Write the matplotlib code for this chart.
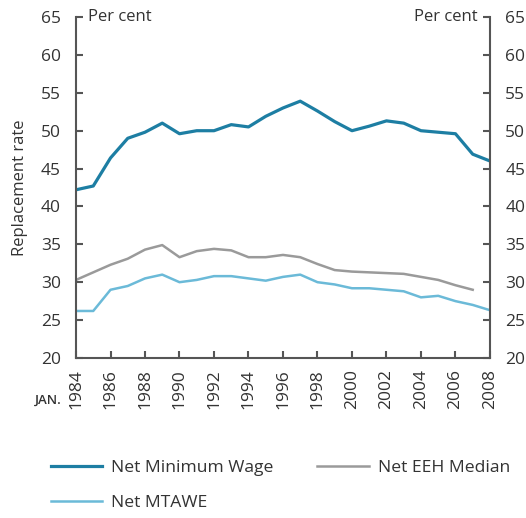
import matplotlib.pyplot as plt

plt.rcParams['font.family'] = ['Open Sans', 'DejaVu Sans']

years = list(range(1984, 2009))
min_wage = [42.2, 42.7, 46.4, 49.0, 49.8, 51.0, 49.6, 50.0, 50.0, 50.8, 50.5, 51.9, 53.0,
            53.9, 52.6, 51.2, 50.0, 50.6, 51.3, 51.0, 50.0, 49.8, 49.6, 46.9, 46.0]
eeh_years = list(range(1984, 2008))
eeh_median = [30.3, 31.3, 32.3, 33.1, 34.3, 34.9, 33.3, 34.1, 34.4, 34.2, 33.3, 33.3,
              33.6, 33.3, 32.4, 31.6, 31.4, 31.3, 31.2, 31.1, 30.7, 30.3, 29.6, 29.0]
mtawe = [26.2, 26.2, 29.0, 29.5, 30.5, 31.0, 30.0, 30.3, 30.8, 30.8, 30.5, 30.2, 30.7,
         31.0, 30.0, 29.7, 29.2, 29.2, 29.0, 28.8, 28.0, 28.2, 27.5, 27.0, 26.3]
xticks = list(range(1984, 2009, 2))
yticks = list(range(20, 66, 5))

axis_col = '#555555'
text_col = '#333333'

fig = plt.figure(figsize=(5.26, 5.18), dpi=100)
ax = fig.add_axes([0.1445, 0.309, 0.787, 0.658])

l1, = ax.plot(years, min_wage, color='#1d7ea3', lw=2.3, label='Net Minimum Wage')
l2, = ax.plot(eeh_years, eeh_median, color='#9a9a9a', lw=1.8, label='Net EEH Median')
l3, = ax.plot(years, mtawe, color='#6bbad8', lw=1.8, label='Net MTAWE')

ax.set_xlim(1984, 2008)
ax.set_ylim(20, 65)
ax.set_xticks(xticks)
ax.set_xticklabels([str(x) for x in xticks], rotation=90)
ax.set_yticks(yticks)

ax.spines['top'].set_visible(False)
for s in ['left', 'right', 'bottom']:
    ax.spines[s].set_color(axis_col)
    ax.spines[s].set_linewidth(1.5)

ax.tick_params(axis='y', which='both', left=True, right=True, labelleft=True, labelright=True,
               direction='in', length=5, width=1.5, color=axis_col, labelsize=12.5,
               labelcolor=text_col, pad=11)
ax.tick_params(axis='x', direction='in', length=5, width=1.5, color=axis_col, labelsize=12.5,
               labelcolor=text_col, pad=8)

ax.set_ylabel('Replacement rate', fontsize=12, color=text_col, labelpad=9)

ax.text(1984.7, 65, 'Per cent', fontsize=12, color=text_col, va='center', ha='left')
ax.text(2007.3, 65, 'Per cent', fontsize=12, color=text_col, va='center', ha='right')

fig.text(62 / 526, 1 - 400 / 518, 'JAN.', fontsize=9.5, fontweight='semibold',
         color=text_col, ha='right', va='center')

fig.legend(handles=[l1, l3, l2], ncol=2, frameon=False, fontsize=12.6,
           loc='upper left', bbox_to_anchor=(35 / 526, 1 - 444 / 518),
           handlelength=2.95, handletextpad=0.5, columnspacing=2.5, labelspacing=1.05,
           labelcolor=text_col)

fig.savefig('out.png', dpi=100)
